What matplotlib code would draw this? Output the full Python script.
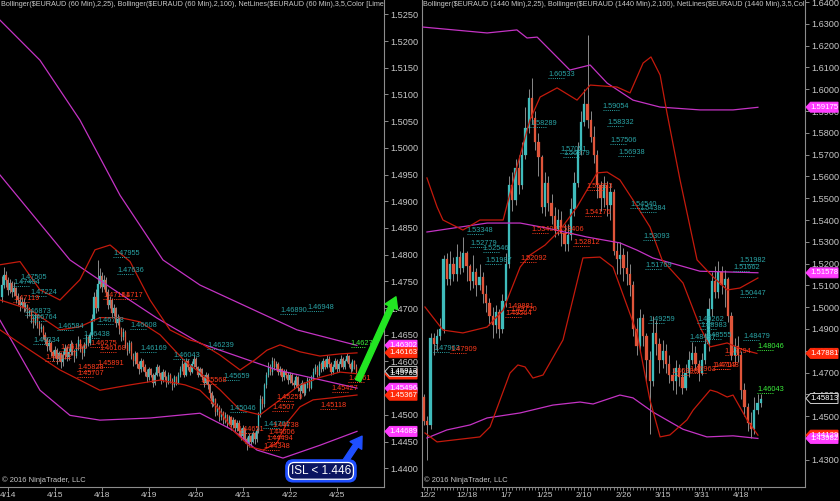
import numpy as np
import matplotlib
matplotlib.use('Agg')
import matplotlib.pyplot as plt
from matplotlib.patches import Polygon
from matplotlib.transforms import IdentityTransform

plt.rcParams['font.family'] = ['Liberation Sans', 'DejaVu Sans']

# ---------------- DATA (prices in pips above 1.0000, i.e. 4743 -> 1.4743) -------------
# Left panel: EURAUD 60 min
h_open0 = 4720
h_close = [4743, 4762, 4753, 4734, 4747, 4730, 4738, 4723, 4715, 4706,
           4712, 4700, 4705, 4690, 4695, 4680, 4672, 4685, 4670, 4660, 4665, 4650,
           4640, 4628, 4635, 4618, 4610, 4622, 4605, 4615, 4598,
           4612, 4625, 4608, 4618, 4632, 4620, 4610, 4628, 4640, 4625, 4615, 4630, 4645, 4635, 4650,
           4680, 4720, 4700, 4745, 4760, 4740, 4752,
           4730, 4705, 4715, 4690, 4700, 4672, 4680, 4660,
           4645, 4655, 4630, 4620, 4635, 4610, 4600, 4615, 4595, 4585, 4600, 4590,
           4580, 4570, 4585, 4575, 4560, 4575, 4590, 4578, 4565, 4580, 4570, 4560, 4575, 4565, 4555, 4570, 4560, 4575,
           4585, 4595, 4575, 4600, 4590, 4580, 4595, 4605, 4590, 4575, 4585, 4570, 4560, 4575, 4555,
           4540, 4520, 4530, 4505, 4515, 4495, 4505, 4490, 4500, 4485, 4495, 4480, 4490, 4475, 4485,
           4470, 4460, 4475, 4455, 4445, 4460, 4450, 4465, 4455, 4470,
           4500, 4530, 4520, 4555, 4575, 4590, 4580, 4600,
           4590, 4595, 4580, 4585, 4570, 4580, 4575, 4565,
           4575, 4560, 4555, 4570, 4550, 4545, 4560, 4540, 4555, 4565, 4550, 4570, 4580,
           4590, 4575, 4595, 4585, 4600, 4590, 4605, 4595, 4580, 4590, 4600, 4585,
           4595, 4605, 4590, 4600, 4610, 4595, 4585, 4600, 4590, 4581]
h_high = [4760, 4776, 4770, 4758, 4755, 4750, 4748, 4740, 4728, 4722,
          4720, 4718, 4712, 4708, 4702, 4698, 4685, 4690, 4688, 4675, 4672, 4668,
          4655, 4645, 4642, 4638, 4622, 4628, 4625, 4620, 4618,
          4620, 4632, 4628, 4625, 4640, 4636, 4624, 4635, 4648, 4642, 4628, 4636, 4652, 4648, 4656,
          4688, 4730, 4735, 4790, 4775, 4768, 4762,
          4758, 4735, 4722, 4718, 4708, 4702, 4688, 4685,
          4665, 4662, 4658, 4636, 4640, 4638, 4615, 4620, 4618, 4600, 4606, 4604,
          4595, 4585, 4590, 4588, 4578, 4580, 4596, 4594, 4580, 4585, 4584, 4572, 4580, 4578, 4568, 4575, 4572, 4580,
          4592, 4602, 4598, 4606, 4604, 4594, 4600, 4612, 4608, 4592, 4590, 4588, 4575, 4580, 4578,
          4558, 4545, 4538, 4532, 4522, 4518, 4512, 4508, 4506, 4502, 4500, 4498, 4495, 4492, 4490,
          4490, 4475, 4480, 4476, 4458, 4465, 4462, 4470, 4468, 4475,
          4505, 4538, 4536, 4560, 4580, 4598, 4596, 4608,
          4606, 4600, 4598, 4592, 4588, 4585, 4586, 4580,
          4580, 4578, 4565, 4575, 4572, 4556, 4565, 4562, 4560, 4570, 4568, 4575, 4588,
          4596, 4594, 4600, 4598, 4606, 4604, 4612, 4610, 4598, 4595, 4606, 4604,
          4600, 4612, 4608, 4604, 4615, 4612, 4598, 4604, 4602, 4596]
h_low = [4712, 4738, 4740, 4725, 4728, 4720, 4722, 4710, 4705, 4695,
         4700, 4692, 4695, 4682, 4685, 4672, 4662, 4668, 4662, 4650, 4655, 4642,
         4632, 4620, 4622, 4610, 4600, 4606, 4595, 4600, 4588,
         4592, 4605, 4600, 4603, 4612, 4612, 4598, 4606, 4622, 4618, 4605, 4610, 4626, 4628, 4630,
         4645, 4676, 4690, 4695, 4738, 4730, 4735,
         4722, 4698, 4700, 4682, 4685, 4665, 4668, 4652,
         4638, 4640, 4625, 4612, 4615, 4605, 4592, 4596, 4588, 4576, 4580, 4582,
         4572, 4562, 4566, 4570, 4552, 4556, 4572, 4572, 4558, 4562, 4565, 4552, 4558, 4560, 4546, 4552, 4555, 4558,
         4570, 4582, 4570, 4572, 4584, 4575, 4578, 4590, 4585, 4570, 4572, 4565, 4552, 4558, 4548,
         4532, 4515, 4516, 4498, 4500, 4488, 4490, 4482, 4485, 4478, 4480, 4472, 4476, 4468, 4470,
         4462, 4452, 4455, 4448, 4435, 4440, 4442, 4448, 4446, 4450,
         4465, 4495, 4510, 4515, 4550, 4570, 4574, 4575,
         4584, 4585, 4575, 4574, 4564, 4566, 4568, 4558,
         4560, 4555, 4548, 4552, 4545, 4530, 4540, 4535, 4538, 4550, 4545, 4548, 4566,
         4576, 4570, 4572, 4580, 4582, 4585, 4588, 4590, 4575, 4576, 4586, 4580,
         4580, 4590, 4585, 4586, 4598, 4590, 4578, 4582, 4585, 4576]

# Bollinger bands (hourly) : vertices (bar, pips)
h_bb100_up_x = [-1, 19.4, 39.8, 60.3, 82.2, 101.1, 150.7, 181.3]
h_bb100_up_y = [5239, 5164, 5052, 4911, 4790, 4743, 4659, 4630]
h_bb100_md_x = [-1, 34.7, 55.2, 79.2, 101.1, 140.4, 181.3]
h_bb100_md_y = [4949, 4790, 4739, 4681, 4634, 4584, 4550]
h_bb100_lo_x = [-1, 19.4, 34.7, 50, 75.6, 101.1, 118, 130.2, 143.5, 162.4, 181.3]
h_bb100_lo_y = [4677, 4546, 4499, 4490, 4494, 4503, 4471, 4434, 4419, 4443, 4469]
h_bb25_up_x = [-1, 9.2, 19.4, 29.6, 39.8, 47.5, 55.2, 65.4, 75.6, 85.8, 96, 101.1, 111.3, 121.6, 129.2, 135.3, 142, 152.2, 162.4, 172.6, 181.3]
h_bb25_up_y = [4781, 4787, 4734, 4715, 4753, 4809, 4818, 4787, 4715, 4659, 4640, 4635, 4612, 4584, 4603, 4621, 4631, 4618, 4610, 4614, 4616]
h_bb25_md_x = [-1, 14.3, 29.6, 39.8, 50, 60.3, 70.5, 80.7, 93.5, 101.1, 111.3, 121.6, 131.8, 142, 152.2, 162.4, 172.6, 181.3]
h_bb25_md_y = [4715, 4697, 4659, 4665, 4682, 4682, 4674, 4650, 4600, 4579, 4547, 4509, 4500, 4528, 4556, 4570, 4580, 4577]
h_bb25_lo_x = [-1, 14.3, 29.6, 39.8, 50, 65.4, 80.7, 93.5, 101.1, 109.8, 118, 126.7, 133.3, 140.4, 145.5, 152.2, 158.9, 169, 181.3]
h_bb25_lo_y = [4659, 4621, 4584, 4565, 4546, 4556, 4565, 4556, 4546, 4515, 4471, 4440, 4434, 4447, 4485, 4515, 4528, 4532, 4537]

# NetLines labels (hourly)
h_teal_txt = ['1.47505', '1.47404', '1.47224', '1.47955', '1.47636', '1.46873', '1.46764', '1.46708', '1.46608',
              '1.46584', '1.46334', '1.46438', '1.46169', '1.46043', '1.46239', '1.45659', '1.46890', '1.46948',
              '1.45046', '1.44761']
h_teal_bar = [9.2, 5.6, 14.3, 56.7, 58.7, 11.7, 14.3, 48.5, 65.4, 28.1, 15.8, 41.4, 70.5, 87.3, 104.7, 112.9,
              142, 155.8, 116.4, 133.3]
h_red_txt = ['1.47119', '1.47161', '1.4717', '1.46168', '1.45891', '1.45828', '1.45707', '1.45568', '1.45259',
             '1.4507', '1.45118', '1.45427', '1.4561', '1.44738', '1.44651', '1.44606', '1.44494', '1.44348',
             '1.46275', '1.46196', '1.46012']
h_red_bar = [5.6, 51.6, 60.3, 50, 48.5, 38.3, 38.3, 101.1, 140.4, 137.9, 162.4, 168.5, 176.7, 137.9, 120,
             135.9, 135.3, 133.3, 45, 29.6, 22]
h_green_txt = ['1.4627']
h_green_bar = [178]

# Right-axis value flags (hourly)
h_flag_val = ['1.46302', '1.46163', '1.45765', '1.45813', '1.45496', '1.45367', '1.44689']
h_flag_kind = ['mag', 'red', 'red', 'last', 'mag', 'red', 'mag']

h_dates = ['4/14', '4/15', '4/18', '4/19', '4/20', '4/21', '4/22', '4/25']
h_date_bar = [3, 27, 51, 75, 99, 123, 147, 171]

# Right panel: EURAUD 1440 min (daily)
d_open0 = 4590
d_close = [4480, 4460, 4860, 4830, 4870, 4900, 5220, 5130, 5200, 5150, 5230, 5180, 5250, 5190, 5120, 5160,
           5100, 5140, 5060, 5020, 4960, 4920, 4980, 4900, 5030, 5200, 5560, 5490, 5640, 5560, 5700, 5820,
           5960, 5870, 5760, 5690, 5460, 5570, 5480, 5420, 5360, 5400, 5340, 5290, 5330, 5450, 5570, 5720,
           5850, 5930, 5860, 5780, 5700, 5560, 5500, 5560, 5470, 5530, 5260, 5220, 5240, 5180, 5150, 5100,
           4900, 4820, 4950, 4870, 4760, 4660, 4880, 4830, 4760, 4800, 4740, 4690, 4660, 4720, 4680, 4630,
           4700, 4760, 4790, 4740, 4700, 4760, 4830, 4990, 5120, 5070, 5160, 5100, 5130, 4960, 4780, 4820,
           4780, 4620, 4540, 4470, 4440, 4530, 4560, 4581]
d_high = [4600, 4500, 4880, 4880, 4900, 4950, 5240, 5250, 5260, 5230, 5290, 5260, 5320, 5260, 5200, 5240,
          5180, 5200, 5160, 5100, 5040, 5000, 5010, 4990, 5060, 5250, 5600, 5620, 5680, 5700, 5760, 5920,
          6000, 6050, 5900, 5800, 5700, 5620, 5600, 5520, 5460, 5450, 5440, 5380, 5380, 5500, 5620, 5760,
          5900, 6000, 6250, 5900, 5830, 5720, 5580, 5600, 5580, 5570, 5540, 5300, 5300, 5270, 5260, 5200,
          5120, 4950, 4990, 4970, 4880, 4800, 4960, 4940, 4860, 4850, 4830, 4780, 4720, 4760, 4740, 4720,
          4740, 4800, 4840, 4820, 4760, 4790, 4880, 5040, 5160, 5190, 5210, 5190, 5170, 5140, 4980, 4860,
          4870, 4800, 4650, 4560, 4520, 4590, 4600, 4600]
d_low = [4460, 4300, 4440, 4780, 4800, 4850, 4880, 5100, 5100, 5120, 5120, 5150, 5160, 5120, 5080, 5090,
         5050, 5080, 5020, 4980, 4920, 4860, 4880, 4860, 4880, 5000, 5180, 5440, 5470, 5520, 5540, 5680,
         5800, 5840, 5720, 5600, 5430, 5420, 5440, 5380, 5320, 5330, 5280, 5260, 5260, 5310, 5420, 5550,
         5700, 5830, 5820, 5760, 5660, 5500, 5440, 5460, 5420, 5400, 5240, 5150, 5150, 5120, 5100, 5050,
         4870, 4780, 4800, 4820, 4660, 4420, 4640, 4780, 4700, 4720, 4700, 4650, 4620, 4600, 4640, 4600,
         4620, 4680, 4740, 4710, 4660, 4690, 4740, 4800, 4960, 5040, 5040, 5060, 5000, 4930, 4760, 4740,
         4750, 4580, 4500, 4430, 4400, 4420, 4510, 4540]

d_bb100_up_x = [-0.3, 19.3, 28.4, 31.5, 34.6, 44.6, 50.8, 56, 63.9, 72.2, 84.4, 94.5, 102.1]
d_bb100_up_y = [6285, 6258, 6272, 6235, 6239, 6088, 6111, 6028, 5950, 5918, 5905, 5905, 5917]
d_bb100_md_x = [0.9, 19.3, 29.4, 37.6, 49.8, 59.9, 65.1, 70, 84.4, 102.1]
d_bb100_md_y = [5345, 5386, 5386, 5363, 5322, 5295, 5262, 5226, 5165, 5158]
d_bb100_lo_x = [0.9, 7, 14.1, 19.3, 29.4, 39.4, 47.7, 51.7, 59.9, 63.9, 70, 79.2, 86.5, 94.5, 102.1]
d_bb100_lo_y = [4400, 4437, 4460, 4492, 4515, 4551, 4565, 4556, 4597, 4584, 4519, 4440, 4405, 4410, 4398]
d_bb25_up_x = [0.9, 4, 5.8, 11.9, 17.1, 24.2, 28.4, 32.4, 35.5, 40.7, 46.8, 50.8, 59, 63, 67, 69.4, 72.2,
               74.3, 78.3, 83.5, 88.4, 92.7, 96.6, 102.1]
d_bb25_up_y = [5593, 5460, 5400, 5354, 5400, 5400, 5643, 5859, 5964, 6006, 5950, 6019, 6010, 5983, 6120,
               6148, 6065, 5891, 5583, 5217, 5139, 5079, 5088, 5134]
d_bb25_md_x = [0.3, 5.8, 11.9, 19.3, 24.2, 29.4, 32.4, 37, 41.6, 46.8, 52.9, 56, 59.9, 63.9, 69.1, 72.8,
               79.2, 84.4, 87.5, 92.7, 97.6, 101.8]
d_bb25_md_y = [5001, 4895, 4882, 4909, 4987, 5184, 5239, 5285, 5354, 5460, 5616, 5620, 5584, 5492, 5368,
               5217, 5111, 4909, 4818, 4836, 4804, 4788]
d_bb25_lo_x = [0.3, 4, 17.1, 20.2, 26.3, 28.7, 30.9, 33.3, 36.4, 42.5, 48.6, 53.8, 57.8, 65.1, 69.1, 72.2,
               75.2, 80.4, 82.3, 87.5, 89.6, 92.7, 94.5, 98.8, 102.1]
d_bb25_lo_y = [4423, 4382, 4405, 4451, 4698, 4735, 4726, 4675, 4689, 4850, 5226, 5230, 5184, 4882, 4574,
               4405, 4414, 4483, 4528, 4620, 4611, 4588, 4597, 4483, 4413]

d_teal_txt = ['1.60533', '1.58289', '1.57051', '1.56879', '1.59054', '1.58332', '1.57506', '1.56938', '1.54540',
              '1.54384', '1.53093', '1.53348', '1.52779', '1.52546', '1.51987', '1.47963', '1.51769', '1.51662',
              '1.51982', '1.50447', '1.49259', '1.49262', '1.48983', '1.48555', '1.48479', '1.48437']
d_teal_bar = [37.9, 32.4, 41.6, 42.5, 54.7, 56, 56.9, 59.3, 63, 66, 67, 13.1, 14.1, 18, 18.7, 2.8, 67.6,
              94.5, 96.6, 96.6, 68.5, 83.5, 84.4, 85.9, 97.6, 81.3]
d_red_txt = ['1.55393', '1.54176', '1.53409', '1.53406', '1.52812', '1.52092', '1.49881', '1.49720', '1.49564',
             '1.47909', '1.47794', '1.4717', '1.47148', '1.46908', '1.46963']
d_red_bar = [49.8, 49.2, 33, 40.7, 45.6, 29.4, 25.4, 26.3, 24.8, 8, 92, 88.7, 88.1, 75.8, 81.3]
d_green_txt = ['1.48046', '1.46043']
d_green_bar = [101.8, 101.8]

d_flag_val = ['1.59175', '1.51578', '1.47881', '1.45813', '1.44129', '1.43982']
d_flag_kind = ['mag', 'mag', 'red', 'last', 'red', 'mag']

d_dates = ['12/2', '12/18', '1/7', '1/25', '2/10', '2/26', '3/15', '3/31', '4/18']
d_date_bar = [1, 13, 25, 37, 49, 61, 73, 85, 97]

left_header = ('Bollinger($EURAUD (60 Min),2,25), Bollinger($EURAUD (60 Min),2,100), '
               'NetLines($EURAUD (60 Min),3,5,Color [Lime')
right_header = ('Bollinger($EURAUD (1440 Min),2,25), Bollinger($EURAUD (1440 Min),2,100), '
                'NetLines($EURAUD (1440 Min),3,5,Col')
copyright_txt = '\u00a9 2016 NinjaTrader, LLC'
isl_text = 'ISL < 1.446'
isl_level = 1.446

# ---------------- STYLE ----------------
BG = 'black'
UP = '#3fbcbc'
DN = '#e0553a'
WICK = '#8a8a8a'
RED_BB = '#c41a0c'
MAG_BB = '#c433c4'
TEAL_T = '#2aa4a6'
RED_T = '#ff3a1c'
GREEN_T = '#3cf03c'
AXC = '#8c8c8c'
TXT = '#c8c8c8'

W, H = 840, 501
fig = plt.figure(figsize=(W / 100, H / 100), dpi=100, facecolor=BG)
axL = fig.add_axes([0 / W, 14 / H, 384 / W, 487 / H])
axR = fig.add_axes([422 / W, 14 / H, 383 / W, 487 / H])


def P(v):
    return 1.0 + np.asarray(v, dtype=float) / 10000.0


def style_axes(ax, show_left):
    ax.set_facecolor(BG)
    ax.spines['top'].set_visible(False)
    ax.spines['left'].set_visible(show_left)
    for s in ['left', 'right', 'bottom']:
        ax.spines[s].set_color(AXC)
        ax.spines[s].set_linewidth(0.8)
    ax.yaxis.tick_right()
    ax.tick_params(axis='y', colors=AXC, labelcolor=TXT, labelsize=6.6, length=3, width=0.7, pad=1.5)
    ax.tick_params(axis='x', colors=AXC, labelcolor=TXT, labelsize=6.0, length=3, width=0.7, pad=0.6)


def draw_candles(ax, o0, c, h, l, w):
    c = P(c)
    h = P(h)
    l = P(l)
    o = np.concatenate([[P(o0)], c[:-1]])
    x = np.arange(len(c))
    ax.vlines(x, l, h, colors=WICK, linewidth=0.7, zorder=3)
    up = c >= o
    lo = np.minimum(o, c)
    ht = np.maximum(np.abs(c - o), 0.00008)
    ax.bar(x[up], ht[up], bottom=lo[up], width=w, color=UP, edgecolor=UP, linewidth=0.2, zorder=4)
    ax.bar(x[~up], ht[~up], bottom=lo[~up], width=w, color=DN, edgecolor=DN, linewidth=0.2, zorder=4)


def draw_labels(ax, txts, bars, color, seg):
    for t, b in zip(txts, bars):
        v = float(t)
        ax.plot([b, b + seg], [v, v], color=color, lw=0.7, ls=(0, (1, 1.2)), zorder=6)
        ax.text(b, v, t, color=color, fontsize=5.3, va='bottom', ha='left', zorder=7, clip_on=True)


def draw_flags(ax, vals, kinds):
    fig.canvas.draw()
    xr = ax.transAxes.transform((1, 0))[0]
    for v, k in zip(vals, kinds):
        yd = ax.transData.transform((0, float(v)))[1]
        if k == 'mag':
            fc, ec, tc = '#ff3cff', '#ff3cff', 'white'
        elif k == 'red':
            fc, ec, tc = '#ff2a0a', '#ff2a0a', 'white'
        else:
            fc, ec, tc = 'black', '#d0d0d0', 'white'
        pts = [(xr + 1, yd), (xr + 5.5, yd + 5), (xr + 33, yd + 5), (xr + 33, yd - 5), (xr + 5.5, yd - 5)]
        fig.add_artist(Polygon(pts, closed=True, transform=IdentityTransform(), fc=fc, ec=ec, lw=0.7,
                               zorder=20))
        fig.text(xr + 5.5, yd, v, transform=IdentityTransform(), color=tc, fontsize=5.6,
                 va='center', ha='left', zorder=21)


def header(ax, txt):
    ax.text(0.002, 0.997, txt, transform=ax.transAxes, color=TXT, fontsize=5.2, va='top', ha='left',
            clip_on=True)
    ax.text(0.005, 0.006, copyright_txt, transform=ax.transAxes, color=TXT, fontsize=5.4,
            va='bottom', ha='left')


# ----- Left panel -----
style_axes(axL, False)
axL.set_xlim(-1.02, 195.1)
axL.set_ylim(1.43648, 1.52768)
draw_candles(axL, h_open0, h_close, h_high, h_low, 0.62)
for xs, ys, col in [(h_bb100_up_x, h_bb100_up_y, MAG_BB), (h_bb100_md_x, h_bb100_md_y, MAG_BB),
                    (h_bb100_lo_x, h_bb100_lo_y, MAG_BB), (h_bb25_up_x, h_bb25_up_y, RED_BB),
                    (h_bb25_md_x, h_bb25_md_y, RED_BB), (h_bb25_lo_x, h_bb25_lo_y, RED_BB)]:
    axL.plot(xs, P(ys), color=col, lw=0.9, zorder=5)
draw_labels(axL, h_teal_txt, h_teal_bar, TEAL_T, 8)
draw_labels(axL, h_red_txt, h_red_bar, RED_T, 8)
draw_labels(axL, h_green_txt, h_green_bar, GREEN_T, 8)
axL.set_yticks(np.round(np.arange(1.44, 1.52501, 0.005), 4))
axL.yaxis.set_major_formatter(matplotlib.ticker.FormatStrFormatter('%.4f'))
axL.set_xticks(h_date_bar)
axL.set_xticklabels(h_dates)
header(axL, left_header)

# arrows / annotation (left)
axL.annotate('', xy=(201.2, 1.4721), xytext=(181.8, 1.4564), annotation_clip=False,
             arrowprops=dict(arrowstyle='simple,head_length=0.8,head_width=1.0,tail_width=0.4',
                             color='#22e622', mutation_scale=10, shrinkA=0, shrinkB=0), zorder=15)
axL.annotate('', xy=(183.9, isl_level), xytext=(175.0, 1.4411), annotation_clip=False,
             arrowprops=dict(arrowstyle='simple,head_length=0.8,head_width=1.0,tail_width=0.38',
                             color='#1f4fff', mutation_scale=10, shrinkA=0, shrinkB=0), zorder=15)
axL.text(162.9, 1.4395, isl_text, color='none', fontsize=8.5, ha='center', va='center', zorder=16,
         bbox=dict(boxstyle='round,pad=0.42,rounding_size=0.6', fc='#1f4fff', ec='#1f4fff', lw=1.0))
axL.text(162.9, 1.4395, isl_text, color='white', fontsize=8.5, ha='center', va='center', zorder=17,
         bbox=dict(boxstyle='round,pad=0.2,rounding_size=0.5', fc='#0a1460', ec='white', lw=0.9))

# ----- Right panel -----
style_axes(axR, True)
axR.set_xlim(-0.61, 116.5)
axR.set_ylim(1.41752, 1.64092)
draw_candles(axR, d_open0, d_close, d_high, d_low, 0.7)
for xs, ys, col in [(d_bb100_up_x, d_bb100_up_y, MAG_BB), (d_bb100_md_x, d_bb100_md_y, MAG_BB),
                    (d_bb100_lo_x, d_bb100_lo_y, MAG_BB), (d_bb25_up_x, d_bb25_up_y, RED_BB),
                    (d_bb25_md_x, d_bb25_md_y, RED_BB), (d_bb25_lo_x, d_bb25_lo_y, RED_BB)]:
    axR.plot(xs, P(ys), color=col, lw=0.9, zorder=5)
draw_labels(axR, d_teal_txt, d_teal_bar, TEAL_T, 5)
draw_labels(axR, d_red_txt, d_red_bar, RED_T, 5)
draw_labels(axR, d_green_txt, d_green_bar, GREEN_T, 5)
axR.set_yticks(np.round(np.arange(1.43, 1.6401, 0.01), 2))
axR.yaxis.set_major_formatter(matplotlib.ticker.FormatStrFormatter('%.4f'))
axR.set_xticks(d_date_bar)
axR.set_xticklabels(d_dates)
axR.set_xticks(np.arange(len(d_close)), minor=True)
axR.tick_params(axis='x', which='minor', length=2.0, colors=AXC, width=0.6)
header(axR, right_header)

draw_flags(axL, h_flag_val, h_flag_kind)
draw_flags(axR, d_flag_val, d_flag_kind)

fig.savefig('out.png', dpi=100, facecolor=BG)
